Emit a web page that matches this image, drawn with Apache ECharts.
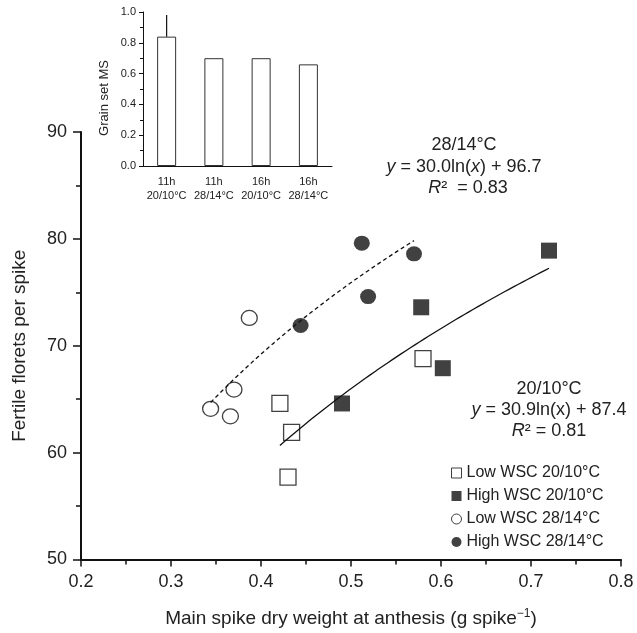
<!DOCTYPE html>
<html>
<head>
<meta charset="utf-8">
<script src="https://cdn.jsdelivr.net/npm/echarts@6/dist/echarts.min.js"></script>
<style>
  html, body { margin: 0; padding: 0; background: #fff; }
  #main { width: 637px; height: 633px; }
</style>
</head>
<body>
<div id="main"></div>
<script>
// main panel: spike dry weight (x) vs fertile florets (y)
var lowCoolX = [0.421, 0.434, 0.430, 0.580];
var lowCoolY = [64.6, 61.9, 57.7, 68.8];
var highCoolX = [0.490, 0.578, 0.602, 0.720];
var highCoolY = [64.6, 73.6, 67.9, 78.9];
var lowWarmX = [0.387, 0.370, 0.344, 0.366];
var lowWarmY = [72.6, 65.9, 64.1, 63.4];
var highWarmX = [0.444, 0.512, 0.519, 0.570];
var highWarmY = [71.9, 79.6, 74.6, 78.6];

// fitted curves as printed on the figure: y = a*ln(x) + b
var fitWarm = [30.0, 96.7];
var fitWarmRange = [0.344, 0.570];
var fitCool = [30.9, 87.4];
var fitCoolRange = [0.421, 0.720];

// inset: grain set of main spike
var insetCats = ["11h\n20/10°C", "11h\n28/14°C", "16h\n20/10°C", "16h\n28/14°C"];
var insetVals = [0.84, 0.70, 0.70, 0.66];
var insetErrTop = [0.98, null, null, null];

var xTicks = [0.2, 0.3, 0.4, 0.5, 0.6, 0.7, 0.8];
var yTicks = [50, 60, 70, 80, 90];

var FONT = "Liberation Sans";
var INK = "#111";

function zip(xs, ys) {
  return xs.map(function (x, i) { return [x, ys[i]]; });
}

function fitCurve(coef, range) {
  var pts = [];
  for (var x = range[0]; x < range[1]; x += 0.005) {
    pts.push([x, coef[0] * Math.log(x) + coef[1]]);
  }
  pts.push([range[1], coef[0] * Math.log(range[1]) + coef[1]]);
  return pts;
}

var chart = echarts.init(document.getElementById("main"));

var openStyle = { color: "#fff", borderColor: INK, borderWidth: 1.3 };
var legendOpen = { color: "#fff", borderColor: INK, borderWidth: 1 };

var option = {
  backgroundColor: "#fff",
  animation: false,
  textStyle: { fontFamily: FONT },
  grid: [
    { left: 81, right: 16, top: 132, bottom: 71 },
    { left: 143, top: 12, width: 189, height: 154 }
  ],
  legend: {
    orient: "vertical",
    left: 446,
    top: 460,
    itemWidth: 10,
    itemHeight: 10,
    itemGap: 7,
    textStyle: { fontFamily: FONT, fontSize: 16, color: "#222" },
    data: [
      { name: "Low WSC 20/10°C", itemStyle: legendOpen },
      { name: "High WSC 20/10°C" },
      { name: "Low WSC 28/14°C", itemStyle: legendOpen },
      { name: "High WSC 28/14°C" }
    ]
  },
  xAxis: [
    {
      type: "value",
      gridIndex: 0,
      min: xTicks[0],
      max: xTicks[xTicks.length - 1],
      interval: 0.1,
      splitLine: { show: false },
      axisLine: { lineStyle: { color: INK, width: 2 } },
      axisTick: { length: 7, lineStyle: { color: INK, width: 1.5 } },
      minorTick: { show: true, splitNumber: 2, length: 5, lineStyle: { color: INK, width: 1.5 } },
      axisLabel: {
        fontSize: 18, color: "#222", margin: 14,
        formatter: function (v) { return v.toFixed(1); }
      },
      name: "Main spike dry weight at anthesis (g spike{sup|−1})",
      nameLocation: "middle",
      nameGap: 48,
      nameTextStyle: {
        fontSize: 19, color: "#222",
        rich: { sup: { fontSize: 12, padding: [0, 0, 10, 0], color: "#222" } }
      }
    },
    {
      type: "category",
      gridIndex: 1,
      data: insetCats,
      axisLine: { lineStyle: { color: INK, width: 1 } },
      axisTick: { length: 4, lineStyle: { color: INK } },
      axisLabel: { fontSize: 11, lineHeight: 14, color: "#222", margin: 9, interval: 0 }
    }
  ],
  yAxis: [
    {
      type: "value",
      gridIndex: 0,
      min: yTicks[0],
      max: yTicks[yTicks.length - 1],
      interval: 10,
      splitLine: { show: false },
      axisLine: { show: true, lineStyle: { color: INK, width: 2 } },
      axisTick: { show: true, length: 8, lineStyle: { color: INK, width: 1.5 } },
      minorTick: { show: true, splitNumber: 2, length: 5, lineStyle: { color: INK, width: 1.5 } },
      axisLabel: { fontSize: 18, color: "#222", margin: 14 },
      name: "Fertile florets per spike",
      nameLocation: "middle",
      nameGap: 52,
      nameTextStyle: { fontSize: 19, color: "#222" }
    },
    {
      type: "value",
      gridIndex: 1,
      min: 0,
      max: 1,
      interval: 0.2,
      splitLine: { show: false },
      axisLine: { show: true, lineStyle: { color: INK, width: 1 } },
      axisTick: { show: true, length: 4, lineStyle: { color: INK } },
      minorTick: { show: true, splitNumber: 2, length: 3, lineStyle: { color: INK } },
      axisLabel: {
        fontSize: 11, color: "#222", margin: 7,
        formatter: function (v) { return v.toFixed(1); }
      },
      name: "Grain set MS",
      nameLocation: "middle",
      nameGap: 32,
      nameTextStyle: { fontSize: 13, color: "#222", padding: [0, 18, 0, 0] }
    }
  ],
  series: [
    {
      name: "fit 28/14",
      type: "line",
      xAxisIndex: 0, yAxisIndex: 0,
      data: fitCurve(fitWarm, fitWarmRange),
      showSymbol: false,
      z: 5,
      lineStyle: { color: INK, width: 1.3, type: [4, 3] }
    },
    {
      name: "fit 20/10",
      type: "line",
      xAxisIndex: 0, yAxisIndex: 0,
      data: fitCurve(fitCool, fitCoolRange),
      showSymbol: false,
      z: 5,
      lineStyle: { color: INK, width: 1.3 }
    },
    {
      name: "Low WSC 20/10°C",
      type: "scatter",
      data: zip(lowCoolX, lowCoolY),
      symbol: "rect",
      symbolSize: 16,
      z: 3,
      itemStyle: openStyle
    },
    {
      name: "High WSC 20/10°C",
      type: "scatter",
      data: zip(highCoolX, highCoolY),
      symbol: "rect",
      symbolSize: 16,
      z: 3,
      itemStyle: { color: INK }
    },
    {
      name: "Low WSC 28/14°C",
      type: "scatter",
      data: zip(lowWarmX, lowWarmY),
      symbol: "circle",
      symbolSize: [16, 15],
      z: 3,
      itemStyle: openStyle
    },
    {
      name: "High WSC 28/14°C",
      type: "scatter",
      data: zip(highWarmX, highWarmY),
      symbol: "circle",
      symbolSize: [16, 15],
      z: 3,
      itemStyle: { color: INK }
    },
    {
      name: "grain set",
      type: "bar",
      xAxisIndex: 1, yAxisIndex: 1,
      data: insetVals,
      barWidth: 19,
      itemStyle: { color: "#fff", borderColor: "#333", borderWidth: 1 }
    },
    {
      name: "grain set err",
      type: "custom",
      xAxisIndex: 1, yAxisIndex: 1,
      data: insetErrTop
        .map(function (v, i) { return [i, insetVals[i], v]; })
        .filter(function (d) { return d[2] != null; }),
      renderItem: function (params, api) {
        var p0 = api.coord([api.value(0), api.value(1)]);
        var p1 = api.coord([api.value(0), api.value(2)]);
        return {
          type: "line",
          shape: { x1: p0[0], y1: p0[1], x2: p1[0], y2: p1[1] },
          style: { stroke: INK, lineWidth: 1.2 }
        };
      }
    }
  ],
  graphic: [
    { type: "text", x: 464, y: 145, style: { text: "28/14°C", font: "18px " + FONT, fill: "#222", align: "center", verticalAlign: "middle" } },
    {
      type: "text", x: 464, y: 167,
      style: {
        text: "{i|y} = 30.0ln({i|x}) + 96.7",
        font: "18px " + FONT, fill: "#222", align: "center", verticalAlign: "middle",
        rich: { i: { fontStyle: "italic", fontSize: 18, fontFamily: FONT, fill: "#222" } }
      }
    },
    {
      type: "text", x: 468, y: 188,
      style: {
        text: "{i|R}²  = 0.83",
        font: "18px " + FONT, fill: "#222", align: "center", verticalAlign: "middle",
        rich: { i: { fontStyle: "italic", fontSize: 18, fontFamily: FONT, fill: "#222" } }
      }
    },
    { type: "text", x: 549, y: 389, style: { text: "20/10°C", font: "18px " + FONT, fill: "#222", align: "center", verticalAlign: "middle" } },
    {
      type: "text", x: 549, y: 410,
      style: {
        text: "{i|y} = 30.9ln(x) + 87.4",
        font: "18px " + FONT, fill: "#222", align: "center", verticalAlign: "middle",
        rich: { i: { fontStyle: "italic", fontSize: 18, fontFamily: FONT, fill: "#222" } }
      }
    },
    {
      type: "text", x: 549, y: 431,
      style: {
        text: "{i|R}² = 0.81",
        font: "18px " + FONT, fill: "#222", align: "center", verticalAlign: "middle",
        rich: { i: { fontStyle: "italic", fontSize: 18, fontFamily: FONT, fill: "#222" } }
      }
    }
  ]
};

chart.setOption(option);
window.addEventListener("resize", function () {
  chart.resize();
});
</script>
</body>
</html>
